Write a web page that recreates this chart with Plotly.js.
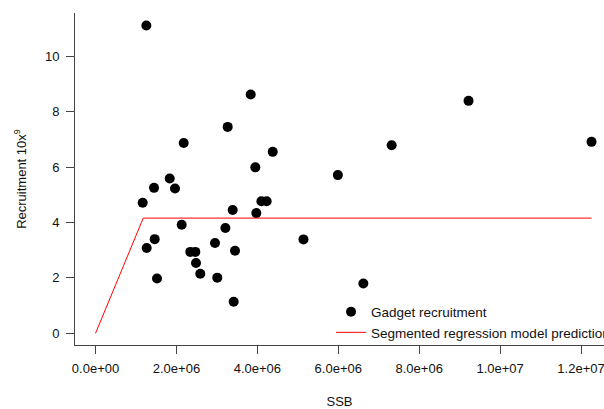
<!DOCTYPE html>
<html>
<head>
<meta charset="utf-8">
<script src="https://cdn.plot.ly/plotly-3.0.1.min.js"></script>
<style>html,body{margin:0;padding:0;background:#fff;}#chart{width:604px;height:409px;}</style>
</head>
<body>
<div id="chart"></div>
<script>
// SSB (tonnes) and Gadget recruitment (10^9)
const ssb = [1256000, 3836000, 3267000, 2180000, 4380000, 3950000, 1834000, 1446000, 1965000,
  1166000, 3390000, 4100000, 4230000, 3975000, 2130000, 3210000, 1463000, 1265000, 2953000,
  2343000, 2467000, 3448000, 2484000, 2590000, 3010000, 1520000, 3415000, 9220000, 7320000,
  5990000, 5140000, 6620000, 12260000];
const recruitment = [11.11, 8.62, 7.45, 6.87, 6.55, 5.99, 5.59, 5.25, 5.23,
  4.71, 4.45, 4.77, 4.77, 4.34, 3.92, 3.80, 3.40, 3.08, 3.26,
  2.94, 2.94, 2.98, 2.54, 2.15, 2.01, 1.98, 1.14, 8.39, 6.79,
  5.71, 3.39, 1.80, 6.91];
// Segmented regression prediction (hockey stick)
const segX = [0, 1180000, 12260000];
const segY = [0, 4.16, 4.16];
// Tick labels
const xTickVals = [0, 2000000, 4000000, 6000000, 8000000, 10000000, 12000000];
const xTickLabels = ["0.0e+00", "2.0e+06", "4.0e+06", "6.0e+06", "8.0e+06", "1.0e+07", "1.2e+07"];
const yTickVals = [0, 2, 4, 6, 8, 10];

const traces = [
  {x: ssb, y: recruitment, type: 'scatter', mode: 'markers', name: 'Gadget recruitment',
   marker: {color: '#000', size: 10}},
  {x: segX, y: segY, type: 'scatter', mode: 'lines', name: 'Segmented regression model prediction',
   line: {color: '#ff0000', width: 1}}
];

const FONT = 'Liberation Sans, Arial, sans-serif';
const axisCommon = {
  showgrid: false, zeroline: false, showline: true, linecolor: '#444', linewidth: 1,
  ticks: 'outside', ticklen: 8, tickcolor: '#444', tickwidth: 1,
  tickfont: {family: FONT, size: 13, color: '#111'}, ticklabeloverflow: 'allow'
};

const layout = {
  width: 604, height: 409,
  margin: {l: 75, r: 0, t: 13, b: 64, autoexpand: false},
  paper_bgcolor: '#fff', plot_bgcolor: '#fff',
  font: {family: FONT, size: 13, color: '#111'},
  showlegend: true,
  legend: {x: 0.484, y: 0.146, xanchor: 'left', yanchor: 'top', bgcolor: 'rgba(0,0,0,0)',
           font: {size: 13.5, color: '#111'}, itemsizing: 'trace'},
  xaxis: Object.assign({}, axisCommon, {
    range: [-507000, 12568000], tickmode: 'array', tickvals: xTickVals, ticktext: xTickLabels,
    ticklabelstandoff: 3,
    title: {text: 'SSB', font: {size: 13, color: '#111'}, standoff: 24}
  }),
  yaxis: Object.assign({}, axisCommon, {
    range: [-0.42, 11.56], tickmode: 'array', tickvals: yTickVals, ticklabelstandoff: 4,
    title: {text: 'Recruitment 10x<sup>9</sup>', font: {size: 13, color: '#111'}, standoff: 15}
  })
};

Plotly.newPlot('chart', traces, layout, {displayModeBar: false, staticPlot: true});
</script>
</body>
</html>
